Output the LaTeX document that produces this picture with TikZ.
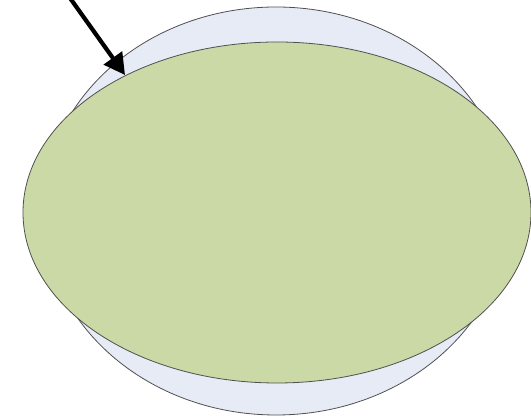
\documentclass[tikz,border=0pt]{standalone}
\usetikzlibrary{arrows.meta,shapes.geometric}
\definecolor{paleblue}{HTML}{E6EBF6}
\definecolor{palegreen}{HTML}{CBD9A6}
\definecolor{edgegray}{HTML}{505050}
\tikzset{
  shapeline/.style={draw=edgegray, line width=0.8pt},
  pointer/.style={line width=4.2pt, -{Triangle[length=21pt,width=22pt]}}
}
\begin{document}
\begin{tikzpicture}[x=1pt,y=1pt]
\useasboundingbox (0,0) rectangle (531,419);
\node[shapeline, fill=paleblue, ellipse, minimum width=466pt, minimum height=408pt, inner sep=0pt] (outer) at (276,208) {};
\node[shapeline, fill=palegreen, ellipse, minimum width=508pt, minimum height=341pt, inner sep=0pt] (inner) at (277,206.5) {};
\coordinate (start) at (70,421);
\coordinate (tip) at (125,344);
\draw[pointer] (start) -- (tip);
\end{tikzpicture}
\end{document}
